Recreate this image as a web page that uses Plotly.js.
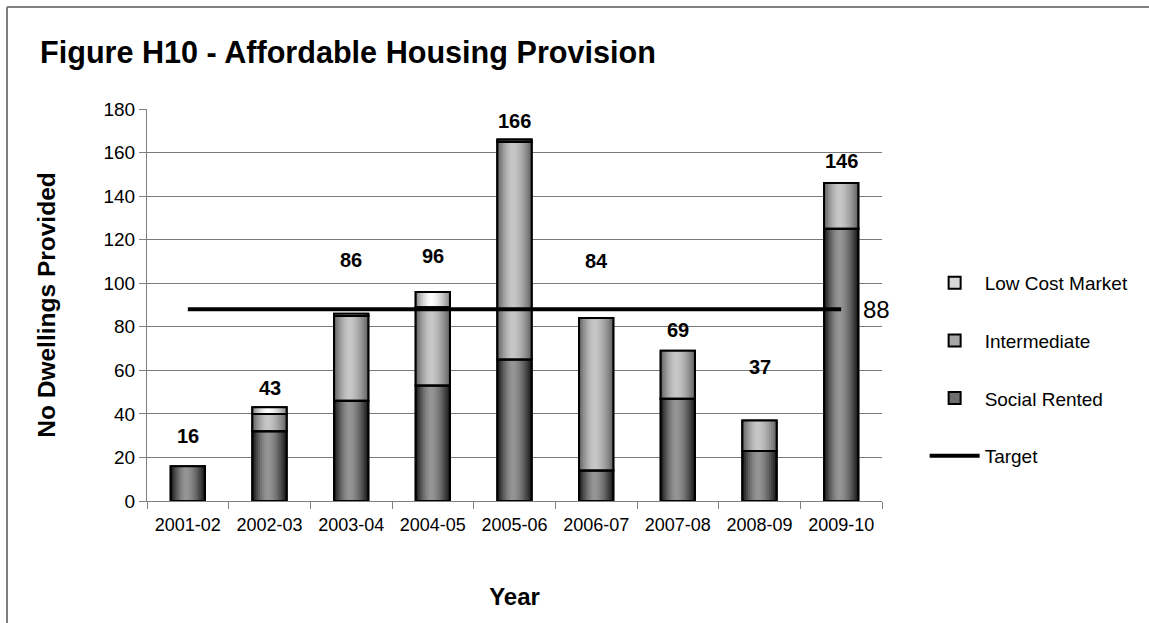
<!DOCTYPE html>
<html>
<head>
<meta charset="utf-8">
<script src="https://cdn.plot.ly/plotly-3.0.1.min.js"></script>
<style>html,body{margin:0;padding:0;background:#fff;}#chart{width:1149px;height:623px;}</style>
</head>
<body>
<div id="chart"></div>
<script>
// ---- data ----
const years = ['2001-02','2002-03','2003-04','2004-05','2005-06','2006-07','2007-08','2008-09','2009-10'];
const socialRented  = [16, 32, 46, 53, 65, 14, 47, 23, 125];
const intermediate  = [0, 8, 39, 36, 100, 70, 22, 14, 21];
const lowCostMarket = [0, 3, 1, 7, 1, 0, 0, 0, 0];
const target = 88;
// vertical placement (in axis units) of the total labels, as in the reference
const totalLabelY = [30, 52, 110.5, 112.5, 174.5, 110, 78.5, 61.5, 156];

// ---- derived ----
const totals = years.map((_, i) => socialRented[i] + intermediate[i] + lowCostMarket[i]);
const baseInter = socialRented.slice();
const baseLow = years.map((_, i) => socialRented[i] + intermediate[i]);

const series = [
  {name: 'Social Rented',   values: socialRented,  base: years.map(() => 0), rank: 3, mid: '#6e6e6e', edge: 18,  center: 150},
  {name: 'Intermediate',    values: intermediate,  base: baseInter,          rank: 2, mid: '#a8a8a8', edge: 95,  center: 200},
  {name: 'Low Cost Market', values: lowCostMarket, base: baseLow,            rank: 1, mid: '#d8d8d8', edge: 130, center: 253}
];

const W = 0.42, N = 18, PEAK = 0.45;
function gray(v){ v = Math.round(Math.max(0, Math.min(255, v))); return 'rgb(' + v + ',' + v + ',' + v + ')'; }
function shade(u, e, c){
  const d = u < PEAK ? (PEAK - u) / PEAK : (u - PEAK) / (1 - PEAK);
  return e + (c - e) * (1 - Math.pow(d, 1.6));
}

const traces = [];
const outlines = [];
series.forEach(s => {
  const vals = s.values.map(v => v > 0 ? v : null);
  traces.push({type: 'bar', x: years, y: vals, base: s.base, width: W, name: s.name,
    legendgroup: s.name, legendrank: s.rank, hoverinfo: 'skip',
    marker: {color: s.mid, line: {color: '#000', width: 2}}});
  for (let k = 0; k < N; k++) {
    const off = -W / 2 + k * W / N;
    traces.push({type: 'bar', x: years, y: vals, base: s.base, offset: off, width: W / 2 - off,
      showlegend: false, hoverinfo: 'skip',
      marker: {color: gray(shade((k + 0.5) / N, s.edge, s.center)), line: {width: 0}}});
  }
  outlines.push({type: 'bar', x: years, y: vals, base: s.base, width: W, showlegend: false, hoverinfo: 'skip',
    marker: {color: 'rgba(0,0,0,0)', line: {color: '#000', width: 2}}});
});
outlines.forEach(t => traces.push(t));

traces.push({type: 'scatter', mode: 'lines', x: years, y: years.map(() => target), name: 'Target',
  legendgroup: 'Target', legendrank: 4, hoverinfo: 'skip', line: {color: '#000', width: 4}});

const annotations = years.map((yr, i) => ({
  x: yr, y: totalLabelY[i], text: String(totals[i]), showarrow: false,
  xanchor: 'center', yanchor: 'middle', font: {size: 20, weight: 'bold', color: '#000'}
}));
annotations.push({x: years[years.length - 1], y: target, text: String(target), showarrow: false,
  xanchor: 'left', yanchor: 'middle', xshift: 20, font: {size: 24, color: '#000'}});

const FONT = 'Liberation Sans, Arial, Helvetica, sans-serif';
const layout = {
  width: 1149, height: 623,
  margin: {l: 147, r: 267, t: 109, b: 122, pad: 0},
  paper_bgcolor: '#fff', plot_bgcolor: '#fff',
  font: {family: FONT, color: '#000'},
  barmode: 'overlay',
  showlegend: true,
  title: {text: 'Figure H10 - Affordable Housing Provision', font: {size: 30.6, weight: 'bold', family: FONT},
    x: 40 / 1149, xref: 'container', xanchor: 'left', y: 1 - 52 / 623, yref: 'container', yanchor: 'middle'},
  xaxis: {type: 'category', range: [-0.5, 8.5], tickson: 'boundaries', ticks: 'outside', ticklen: 7,
    tickcolor: '#808080', showline: true, linecolor: '#808080', linewidth: 1, showgrid: false,
    tickfont: {size: 18}, ticklabelstandoff: 7,
    title: {text: 'Year', font: {size: 24, weight: 'bold'}, standoff: 54}},
  yaxis: {range: [0, 180], dtick: 20, ticks: 'outside', ticklen: 7, tickcolor: '#808080',
    showline: true, linecolor: '#808080', linewidth: 1, showgrid: true, gridcolor: '#7a7a7a', gridwidth: 1,
    zeroline: false, tickfont: {size: 19},
    title: {text: 'No Dwellings Provided', font: {size: 24.5, weight: 'bold'}, standoff: 40}},
  legend: {x: 1.058, xanchor: 'left', y: 0.605, yanchor: 'top', font: {size: 19},
    traceorder: 'grouped', tracegroupgap: 30, itemwidth: 50, bgcolor: 'rgba(0,0,0,0)'},
  annotations: annotations,
  shapes: [
    {type: 'line', xref: 'paper', yref: 'paper', x0: (7 - 147) / 735, x1: (7 - 147) / 735, y0: (501 - 7) / 392, y1: (501 - 623) / 392,
      line: {color: '#808080', width: 2}},
    {type: 'line', xref: 'paper', yref: 'paper', x0: (7 - 147) / 735, x1: (1149 - 147) / 735, y0: (501 - 7) / 392, y1: (501 - 7) / 392,
      line: {color: '#808080', width: 2}}
  ]
};

Plotly.newPlot('chart', traces, layout, {displayModeBar: false, staticPlot: true});
</script>
</body>
</html>
